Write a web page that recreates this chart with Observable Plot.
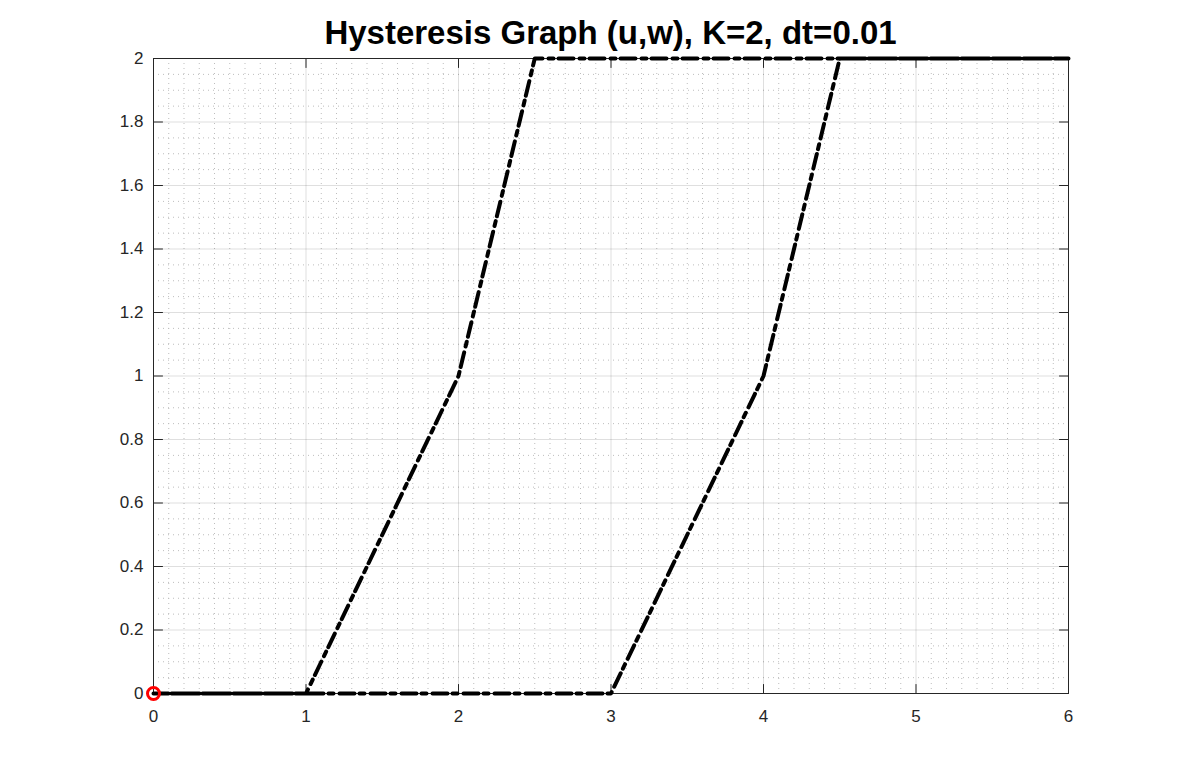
<!DOCTYPE html>
<html>
<head>
<meta charset="utf-8">
<script src="https://cdn.jsdelivr.net/npm/d3@7"></script>
<script src="https://cdn.jsdelivr.net/npm/@observablehq/plot@0.6"></script>
<style>
  body { margin: 0; background: #fff; font-family: "Liberation Sans", Arial, sans-serif; }
  #wrap { width: 1180px; height: 780px; position: relative; overflow: hidden; }
  #title { position: absolute; left: 153px; width: 915px; top: 15px; text-align: center;
           font-weight: bold; font-size: 33px; color: #000; line-height: 36px; }
  #chart { position: absolute; left: 0; top: 0; }
</style>
</head>
<body>
<div id="wrap">
  <div id="chart"></div>
  <div id="title">Hysteresis Graph (u,w), K=2, dt=0.01</div>
</div>
<script>
// Hysteresis path (u, w): increasing branch then decreasing branch
const pathU = [0, 3, 4, 4.5, 6, 6, 2.5, 2, 1, 0];
const pathW = [0, 0, 1, 2, 2, 2, 2, 1, 0, 0];
const startU = [0];
const startW = [0];
const xTicks = [0, 1, 2, 3, 4, 5, 6];
const yTicks = [0, 0.2, 0.4, 0.6, 0.8, 1, 1.2, 1.4, 1.6, 1.8, 2];
const xMinor = d3.range(1, 60).map(i => i / 10).filter((v, i) => (i + 1) % 10 !== 0);
const yMinor = d3.range(1, 40).map(i => i / 20).filter((v, i) => (i + 1) % 4 !== 0);

const path = pathU.map((u, i) => ({u, w: pathW[i]}));
const start = startU.map((u, i) => ({u, w: startW[i]}));

const axisColor = "#262626";
const tickShape = { draw(context, l) { context.moveTo(0, 0); context.lineTo(0, -l); } };
const TL = 9;
const chart = Plot.plot({
  width: 1180,
  height: 780,
  marginLeft: 153,
  marginRight: 112,
  marginTop: 58,
  marginBottom: 87,
  style: { fontFamily: "Liberation Sans, Arial, sans-serif", fontSize: "17px", color: axisColor, background: "#fff" },
  x: { domain: [0, 6] },
  y: { domain: [0, 2] },
  marks: [
    Plot.ruleX(xMinor, { stroke: "#bdbdbd", strokeDasharray: "1,4", strokeWidth: 1 }),
    Plot.ruleY(yMinor, { stroke: "#bdbdbd", strokeDasharray: "1,4", strokeWidth: 1 }),
    Plot.gridX(xTicks, { stroke: axisColor, strokeOpacity: 0.15, strokeWidth: 1 }),
    Plot.gridY(yTicks, { stroke: axisColor, strokeOpacity: 0.15, strokeWidth: 1 }),
    Plot.axisX(xTicks, { anchor: "bottom", tickSize: 0, tickPadding: 16, fill: axisColor, label: null, tickFormat: d => d3.format("~g")(d) }),
    Plot.axisY(yTicks, { anchor: "left", tickSize: 0, tickPadding: 10, fill: axisColor, label: null, tickFormat: d => d3.format("~g")(d) }),
    // inward tick marks on all four sides
    Plot.vector(xTicks, { x: d => d, y: () => 0, length: TL, rotate: 0, anchor: "start", shape: tickShape, stroke: axisColor, strokeWidth: 1 }),
    Plot.vector(xTicks, { x: d => d, y: () => 2, length: TL, rotate: 180, anchor: "start", shape: tickShape, stroke: axisColor, strokeWidth: 1 }),
    Plot.vector(yTicks, { x: () => 0, y: d => d, length: TL, rotate: 90, anchor: "start", shape: tickShape, stroke: axisColor, strokeWidth: 1 }),
    Plot.vector(yTicks, { x: () => 6, y: d => d, length: TL, rotate: 270, anchor: "start", shape: tickShape, stroke: axisColor, strokeWidth: 1 }),
    Plot.frame({ stroke: axisColor, strokeWidth: 1 }),
    Plot.line(path, { x: "u", y: "w", stroke: "#000", strokeWidth: 4, strokeDasharray: "15,5,5,6", strokeLinejoin: "round" }),
    Plot.dot(start, { x: "u", y: "w", r: 6, stroke: "#ff0000", strokeWidth: 3, fill: "none" })
  ]
});
document.getElementById("chart").appendChild(chart);
</script>
</body>
</html>
